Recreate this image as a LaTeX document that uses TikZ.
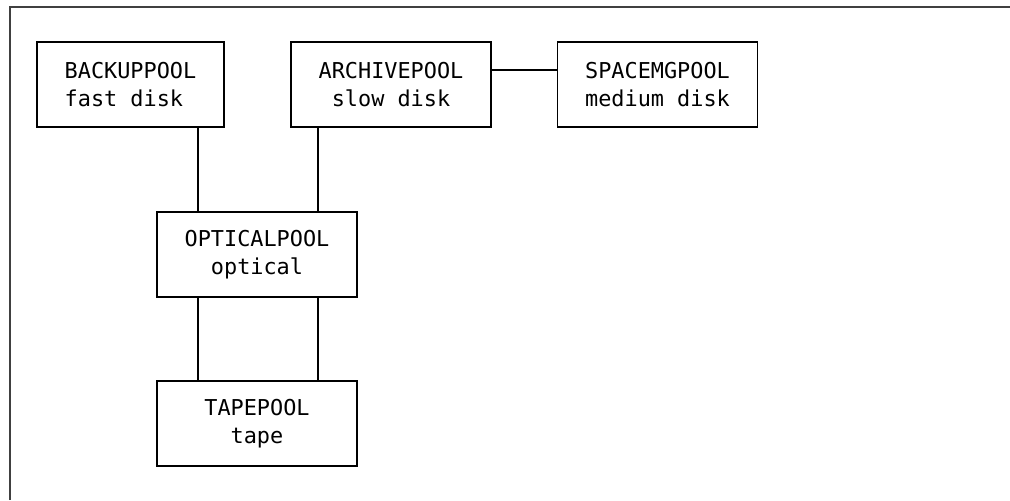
\documentclass[tikz,border=0pt]{standalone}
\usepackage{fontspec}
\setmonofont{DejaVu Sans Mono}
\usepackage{tikz}
\usetikzlibrary{calc}

\tikzset{
  pool/.style={draw, line width=0.8pt, minimum width=150pt, minimum height=63.75pt,
    align=center, inner sep=0pt, font=\ttfamily\fontsize{16.4pt}{21pt}\selectfont},
  link/.style={line width=0.8pt}
}

\begin{document}
\begin{tikzpicture}[x=0.75pt, y=-0.75pt]
\useasboundingbox (0,0) rectangle (1010,500);
% frame
\draw[line width=1.1pt, black!75] (10,500)--(10,7)--(1010,7);

% pools
\node[pool, minimum width=140.25pt, align=left] (backup) at (130.5,84.5) {BACKUPPOOL\\fast disk};
\node[pool] (archive) at (391,84.5) {ARCHIVEPOOL\\slow disk};
\node[pool] (spacemg) at (657.5,84.5) {SPACEMGPOOL\\medium disk};
\node[pool] (optical) at (257,254.5) {OPTICALPOOL\\optical};
\node[pool] (tape) at (257,423.5) {TAPEPOOL\\tape};

\coordinate (lft) at (198,0);
\coordinate (rgt) at (318,0);
\draw[link] (backup.south -| lft)--(optical.north -| lft);
\draw[link] (archive.south -| rgt)--(optical.north -| rgt);
\draw[link] (optical.south -| lft)--(tape.north -| lft);
\draw[link] (optical.south -| rgt)--(tape.north -| rgt);
\draw[link] ([yshift=10.9pt]archive.east)--([yshift=10.9pt]spacemg.west);
\end{tikzpicture}
\end{document}
